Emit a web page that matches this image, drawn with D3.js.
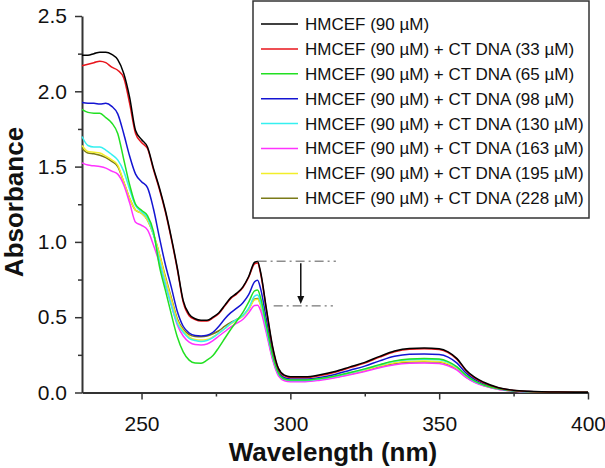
<!DOCTYPE html>
<html>
<head>
<meta charset="utf-8">
<script src="https://cdn.jsdelivr.net/npm/d3@7"></script>
<style>
  html, body { margin: 0; padding: 0; background: #fff; }
  svg { display: block; font-family: "Liberation Sans", Arial, Helvetica, sans-serif; }
</style>
</head>
<body>
<svg id="chart" width="605" height="468"></svg>
<script>
// ---- data ----
const wavelengths = [230,232,234,236,238,240,242,244,246,248,250,252,254,256,258,260,262,264,266,268,270,272,274,276,278,280,282,284,286,288,289,290,292,294,296,298,300,305,310,315,320,325,330,335,340,345,350,353,356,359,362,365,370,375,380,390,400];

const hmcef = [2.24,2.24,2.25,2.26,2.26,2.245,2.21,2.12,1.96,1.74,1.68,1.63,1.49,1.36,1.21,1.03,0.83,0.61,0.52,0.49,0.48,0.48,0.50,0.53,0.58,0.63,0.66,0.70,0.77,0.865,0.87,0.80,0.55,0.31,0.16,0.115,0.105,0.105,0.118,0.14,0.17,0.20,0.24,0.275,0.292,0.295,0.29,0.27,0.225,0.15,0.10,0.068,0.032,0.015,0.008,0.003,0.002];
const dna33 = [2.17,2.18,2.19,2.20,2.19,2.16,2.14,2.09,1.92,1.72,1.66,1.62,1.48,1.35,1.20,1.02,0.82,0.60,0.51,0.485,0.475,0.475,0.495,0.525,0.575,0.625,0.655,0.695,0.765,0.855,0.86,0.79,0.54,0.30,0.155,0.11,0.10,0.10,0.113,0.135,0.165,0.195,0.235,0.27,0.287,0.29,0.285,0.265,0.22,0.145,0.095,0.064,0.03,0.014,0.007,0.003,0.002];
const dna65 = [1.88,1.86,1.855,1.855,1.825,1.79,1.72,1.55,1.38,1.25,1.21,1.175,1.07,0.84,0.68,0.52,0.37,0.27,0.215,0.196,0.195,0.215,0.245,0.30,0.36,0.42,0.475,0.53,0.60,0.675,0.68,0.63,0.44,0.25,0.13,0.09,0.083,0.083,0.093,0.11,0.133,0.157,0.185,0.21,0.222,0.225,0.222,0.205,0.17,0.115,0.075,0.05,0.024,0.011,0.005,0.002,0.001];
const dna98 = [1.925,1.92,1.92,1.915,1.92,1.90,1.85,1.72,1.57,1.45,1.40,1.36,1.22,1.03,0.85,0.70,0.54,0.44,0.395,0.378,0.375,0.38,0.40,0.44,0.49,0.53,0.56,0.595,0.65,0.735,0.745,0.69,0.48,0.27,0.14,0.098,0.09,0.09,0.10,0.12,0.148,0.175,0.21,0.24,0.254,0.256,0.252,0.235,0.195,0.13,0.085,0.057,0.027,0.012,0.006,0.002,0.001];
const dna130 = [1.70,1.64,1.63,1.63,1.61,1.58,1.545,1.47,1.35,1.24,1.20,1.16,1.05,0.88,0.72,0.58,0.46,0.40,0.36,0.345,0.338,0.345,0.365,0.395,0.425,0.46,0.485,0.51,0.56,0.64,0.647,0.60,0.42,0.24,0.125,0.087,0.08,0.08,0.09,0.107,0.13,0.155,0.183,0.207,0.218,0.22,0.217,0.2,0.167,0.112,0.073,0.049,0.023,0.01,0.005,0.002,0.001];
const dna163 = [1.525,1.51,1.505,1.50,1.49,1.47,1.45,1.38,1.26,1.13,1.11,1.08,0.98,0.86,0.72,0.58,0.45,0.375,0.335,0.318,0.315,0.322,0.345,0.375,0.405,0.435,0.46,0.485,0.53,0.578,0.58,0.545,0.39,0.22,0.11,0.078,0.072,0.072,0.082,0.098,0.118,0.14,0.165,0.185,0.194,0.196,0.193,0.178,0.148,0.1,0.066,0.044,0.02,0.009,0.004,0.002,0.001];
const dna195 = [1.64,1.60,1.595,1.59,1.57,1.545,1.51,1.40,1.29,1.21,1.19,1.145,1.05,0.92,0.76,0.62,0.48,0.41,0.37,0.352,0.348,0.352,0.37,0.395,0.425,0.455,0.48,0.505,0.55,0.615,0.62,0.58,0.41,0.23,0.118,0.083,0.077,0.077,0.087,0.103,0.125,0.148,0.175,0.197,0.207,0.209,0.206,0.19,0.158,0.106,0.07,0.047,0.022,0.01,0.005,0.002,0.001];
const dna228 = [1.62,1.59,1.585,1.575,1.56,1.535,1.50,1.40,1.29,1.21,1.19,1.145,1.05,0.92,0.77,0.63,0.49,0.42,0.385,0.372,0.37,0.375,0.39,0.41,0.44,0.465,0.485,0.51,0.555,0.62,0.625,0.585,0.41,0.23,0.118,0.083,0.077,0.077,0.086,0.101,0.122,0.145,0.172,0.193,0.203,0.205,0.202,0.186,0.155,0.104,0.069,0.046,0.021,0.01,0.005,0.002,0.001];

const seriesLabels = [
  "HMCEF (90 µM)",
  "HMCEF (90 µM) + CT DNA (33 µM)",
  "HMCEF (90 µM) + CT DNA (65 µM)",
  "HMCEF (90 µM) + CT DNA (98 µM)",
  "HMCEF (90 µM) + CT DNA (130 µM)",
  "HMCEF (90 µM) + CT DNA (163 µM)",
  "HMCEF (90 µM) + CT DNA (195 µM)",
  "HMCEF (90 µM) + CT DNA (228 µM)"
];
const seriesValues = [hmcef, dna33, dna65, dna98, dna130, dna163, dna195, dna228];
const seriesColors = ["#000000","#e8141b","#22e022","#1414d2","#35f0f0","#ff33ff","#f2ee2a","#7a7a18"];

const xTicks = [250, 300, 350, 400];
const xMinorTicks = [275, 325, 375];
const yTicks = [0.0, 0.5, 1.0, 1.5, 2.0, 2.5];
const yMinorTicks = [0.25, 0.75, 1.25, 1.75, 2.25];

// arrow annotation (peak decrease)
const peakTop = 0.872, peakBottom = 0.575;

// ---- chart ----
const svg = d3.select("#chart");
const x = d3.scaleLinear().domain([230, 400]).range([82, 588]);
const y = d3.scaleLinear().domain([0, 2.5]).range([392.5, 16]);
const axisColor = "#333";

// minor ticks
svg.append("g").attr("transform", `translate(0,${y(0)})`)
  .call(d3.axisBottom(x).tickValues(xMinorTicks).tickSize(4).tickSizeOuter(0).tickFormat(""))
  .call(g => g.select(".domain").remove())
  .call(g => g.selectAll("line").attr("stroke", axisColor).attr("stroke-width", 1.5));
svg.append("g").attr("transform", `translate(${x(230)},0)`)
  .call(d3.axisLeft(y).tickValues(yMinorTicks).tickSize(4).tickSizeOuter(0).tickFormat(""))
  .call(g => g.select(".domain").remove())
  .call(g => g.selectAll("line").attr("stroke", axisColor).attr("stroke-width", 1.5));

// major axes
const xAxis = svg.append("g").attr("transform", `translate(0,${y(0)})`)
  .call(d3.axisBottom(x).tickValues(xTicks).tickSize(7).tickSizeOuter(0).tickPadding(17).tickFormat(d3.format("d")));
const yAxis = svg.append("g").attr("transform", `translate(${x(230)},0)`)
  .call(d3.axisLeft(y).tickValues(yTicks).tickSize(7).tickSizeOuter(0).tickPadding(8).tickFormat(d3.format(".1f")));
[xAxis, yAxis].forEach(g => {
  g.select(".domain").attr("stroke", axisColor).attr("stroke-width", 2);
  g.selectAll(".tick line").attr("stroke", axisColor).attr("stroke-width", 1.5);
  g.selectAll(".tick text").attr("fill", "#111").style("font-size", "21px")
    .style("font-family", '"Liberation Sans", Arial, sans-serif');
});

// curves
const line = d3.line().x(d => x(d[0])).y(d => y(d[1])).curve(d3.curveMonotoneX);
for (let i = seriesValues.length - 1; i >= 0; i--) {
  const pts = wavelengths.map((w, j) => [w, seriesValues[i][j]]);
  svg.append("path").datum(pts)
    .attr("fill", "none")
    .attr("stroke", seriesColors[i])
    .attr("stroke-width", 1.5)
    .attr("stroke-linejoin", "round")
    .attr("d", line);
}

// annotation dash-dot lines and arrow
svg.append("line")
  .attr("x1", x(289)).attr("x2", x(315.3)).attr("y1", y(peakTop)).attr("y2", y(peakTop))
  .attr("stroke", "#555").attr("stroke-width", 1).attr("stroke-dasharray", "9,4,2,4");
svg.append("line")
  .attr("x1", x(294.4)).attr("x2", x(314.3)).attr("y1", y(peakBottom)).attr("y2", y(peakBottom))
  .attr("stroke", "#555").attr("stroke-width", 1).attr("stroke-dasharray", "9,4,2,4");
const ax = x(303.5);
svg.append("line")
  .attr("x1", ax).attr("x2", ax).attr("y1", y(peakTop) + 2).attr("y2", y(peakBottom) - 8)
  .attr("stroke", "#111").attr("stroke-width", 1.5);
svg.append("path")
  .attr("d", `M${ax - 3.5},${y(peakBottom) - 10} L${ax + 3.5},${y(peakBottom) - 10} L${ax},${y(peakBottom) - 2} Z`)
  .attr("fill", "#111");

// legend
const lg = svg.append("g");
lg.append("rect").attr("x", 253).attr("y", 1).attr("width", 336).attr("height", 217)
  .attr("fill", "#fff").attr("stroke", "#333").attr("stroke-width", 1.5);
seriesLabels.forEach((lab, i) => {
  const yy = 24 + i * 24.9;
  lg.append("line").attr("x1", 261).attr("x2", 298).attr("y1", yy).attr("y2", yy)
    .attr("stroke", seriesColors[i]).attr("stroke-width", 1.5);
  lg.append("text").attr("x", 305).attr("y", yy).attr("dy", "0.35em")
    .style("font-size", "17px").attr("fill", "#111").text(lab);
});

// axis titles
svg.append("text").attr("x", 333).attr("y", 461).attr("text-anchor", "middle")
  .style("font-size", "26px").style("font-weight", "bold").attr("fill", "#111")
  .text("Wavelength (nm)");
svg.append("text").attr("transform", "translate(23,202) rotate(-90)").attr("text-anchor", "middle")
  .style("font-size", "26px").style("font-weight", "bold").attr("fill", "#111")
  .text("Absorbance");
</script>
</body>
</html>
